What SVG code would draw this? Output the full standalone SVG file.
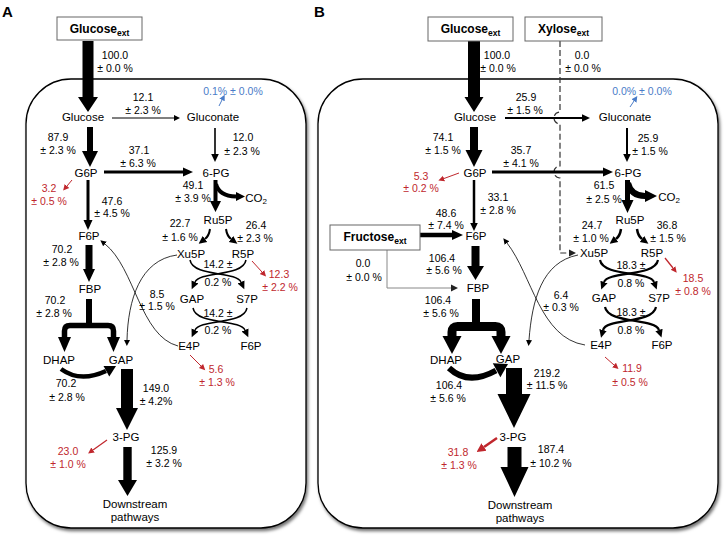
<svg xmlns="http://www.w3.org/2000/svg" width="725" height="541" viewBox="0 0 725 541">
<defs>
<style>
text{font-family:"Liberation Sans",Arial,Helvetica,sans-serif;text-anchor:middle;fill:#000}
.f{font-size:10.5px}
.n{font-size:11.5px}
.r{fill:#c0272d}
.bl{fill:#4a7cc8}
.bx{font-size:12px;font-weight:bold}
.pl{font-size:15px;font-weight:bold;text-anchor:start}
.cell{fill:#fff;stroke:#000;stroke-width:1.3}
.box{fill:#fff;stroke:#666;stroke-width:1}
.ln{fill:none;stroke:#000}
.rl{fill:none;stroke:#c0272d}
.bln{fill:none;stroke:#4a7cc8}
</style>
<filter id="sh" x="-5%" y="-5%" width="112%" height="112%">
<feDropShadow dx="1.5" dy="2.5" stdDeviation="1.5" flood-color="#000" flood-opacity="0.55"/>
</filter>
<marker id="k6" markerUnits="userSpaceOnUse" viewBox="0 -4 8 8" markerWidth="8" markerHeight="8" refX="0" refY="0" orient="auto"><path d="M0,-3L6,0L0,3Z" fill="#000"/></marker>
<marker id="k8" markerUnits="userSpaceOnUse" viewBox="0 -5 10 10" markerWidth="10" markerHeight="10" refX="0" refY="0" orient="auto"><path d="M0,-3.8L8,0L0,3.8Z" fill="#000"/></marker>
<marker id="k10" markerUnits="userSpaceOnUse" viewBox="0 -6 12 12" markerWidth="12" markerHeight="12" refX="0" refY="0" orient="auto"><path d="M0,-4.5L10,0L0,4.5Z" fill="#000"/></marker>
<marker id="r6" markerUnits="userSpaceOnUse" viewBox="0 -4 8 8" markerWidth="8" markerHeight="8" refX="0" refY="0" orient="auto"><path d="M0,-3L6,0L0,3Z" fill="#c0272d"/></marker>
<marker id="r9" markerUnits="userSpaceOnUse" viewBox="0 -6 12 12" markerWidth="12" markerHeight="12" refX="0" refY="0" orient="auto"><path d="M0,-4.5L9,0L0,4.5Z" fill="#c0272d"/></marker>
<marker id="b6" markerUnits="userSpaceOnUse" viewBox="0 -4 8 8" markerWidth="8" markerHeight="8" refX="0" refY="0" orient="auto"><path d="M0,-3L6,0L0,3Z" fill="#4a7cc8"/></marker>
<marker id="d7" markerUnits="userSpaceOnUse" viewBox="0 -5 10 10" markerWidth="10" markerHeight="10" refX="0" refY="0" orient="auto"><path d="M0,-3.5L7,0L0,3.5Z" fill="#222"/></marker>
</defs>
<rect width="725" height="541" fill="#fff"/>

<!-- cells -->
<g id="cell-A"><rect class="cell" x="26" y="79" width="280" height="449" rx="45" filter="url(#sh)"/></g>
<g id="cell-B"><rect class="cell" x="318" y="79" width="400" height="449" rx="45" filter="url(#sh)"/></g>

<text class="pl" x="2" y="17">A</text>
<text class="pl" x="314" y="17">B</text>

<!-- ===== connectors ===== -->
<g id="connectors">
<!-- Panel A thick glycolysis -->
<polygon points="82.5,41 93.5,41 93.5,97 98,97 88,112 78,97 82.5,97"/>
<polygon points="87,127 93,127 93,151 98,151 90,167 82,151 87,151"/>
<path class="ln" d="M88,180 L88,220" stroke-width="3" marker-end="url(#k10)"/>
<polygon points="85.5,245 92.5,245 92.5,269 95,269 89,282 83,269 85.5,269"/>
<rect x="86" y="299" width="6" height="26"/>
<path class="ln" d="M64.5,338 L64.5,331 Q64.5,325.5 70,325.5 L108,325.5 Q113.5,325.5 113.5,331 L113.5,338" stroke-width="5.5"/>
<polygon points="58,337 71,337 64.5,352"/>
<polygon points="107,337 120,337 113.5,352"/>
<path class="ln" d="M61,369 Q80,383 106,371" stroke-width="4.5"/>
<polygon points="109.3,376.6 116,366 103.5,366"/>
<polygon points="121,369 133,369 133,408 138,408 127,430 116,408 121,408"/>
<polygon points="123.3,447 131.7,447 131.7,480 137,480 127.5,496 118,480 123.3,480"/>
<!-- Panel A PPP -->
<path class="ln" d="M112,118 L174,118" stroke-width="1" marker-end="url(#k6)"/>
<path class="ln" d="M215,128 L215,154" stroke-width="1.6" marker-end="url(#k8)"/>
<path class="ln" d="M104,172 L183,172" stroke-width="3" marker-end="url(#k10)"/>
<polygon points="213.5,180 217.5,180 217.5,201 221,201 215.5,212 210,201 213.5,201"/>
<path class="ln" d="M216,184 Q219,196 236,196.5" stroke-width="4"/>
<polygon points="236,192 245,196.5 236,201"/>
<path class="ln" d="M210,229 Q209,236 205,239" stroke-width="2" marker-end="url(#k8)"/>
<path class="ln" d="M226,229 Q227,236 231,239" stroke-width="2" marker-end="url(#k8)"/>
<path class="ln" d="M190,260 C193,277 236,271 241,282" stroke-width="1.5" marker-end="url(#k8)"/>
<path class="ln" d="M246,260 C243,277 200,271 195,282" stroke-width="1.5" marker-end="url(#k8)"/>
<path class="ln" d="M193,308 C196,325 240,319 245,330" stroke-width="1.5" marker-end="url(#k8)"/>
<path class="ln" d="M247,308 C244,325 200,319 195,330" stroke-width="1.5" marker-end="url(#k8)"/>
<path class="ln" d="M177,255 C140,260 128,300 127,340" stroke-width="0.8" marker-end="url(#k6)"/>
<path class="ln" d="M178,346 C140,336 135,268 105,244" stroke-width="0.8" marker-end="url(#k6)"/>
<!-- Panel A effluxes -->
<path class="rl" d="M72,180 L67,186" stroke-width="1" marker-end="url(#r6)"/>
<path class="rl" d="M252,261 L262,272" stroke-width="1" marker-end="url(#r6)"/>
<path class="rl" d="M190,355 L201,366" stroke-width="1" marker-end="url(#r6)"/>
<path class="rl" d="M107,440 L93,450" stroke-width="1.2" marker-end="url(#r6)"/>
<path class="bln" d="M219,106 L222,100" stroke-width="1" marker-end="url(#b6)"/>

<!-- Panel B thick glycolysis -->
<polygon points="468,41 480,41 480,97 483.5,97 474,112 464.5,97 468,97"/>
<polygon points="470,127 478,127 478,150 482.5,150 474,167 465.5,150 470,150"/>
<path class="ln" d="M474,180 L474,223" stroke-width="2.5" marker-end="url(#k8)"/>
<polygon points="420,232.8 452,232.8 452,230 463,235 452,240 452,237.2 420,237.2"/>
<path fill="none" stroke="#888" stroke-width="1" d="M387,250 L387,288 L451,288" marker-end="url(#d7)"/>
<polygon points="471.5,246 479.5,246 479.5,266 484,266 475.5,280 467,266 471.5,266"/>
<rect x="472" y="299" width="8" height="28"/>
<path class="ln" d="M452,338 L452,332 Q452,326.5 457.5,326.5 L495.5,326.5 Q501,326.5 501,332 L501,338" stroke-width="9"/>
<polygon points="442.5,336 461.5,336 452,354"/>
<polygon points="491.5,336 510.5,336 501,354"/>
<path class="ln" d="M449,368 Q468,386 496,370.5" stroke-width="6"/>
<polygon points="500.4,377.2 508,364 492.8,363.2"/>
<polygon points="506,368 522,368 522,394 530.5,394 514,428 497.5,394 506,394"/>
<polygon points="507.5,447 521.5,447 521.5,467 528.5,467 514.5,497 500.5,467 507.5,467"/>
<!-- Panel B PPP -->
<path fill="none" stroke="#333" stroke-width="1.2" stroke-dasharray="6,3" d="M560,41 L560,112 A6,6 0 0 0 560,124 L560,166 A6,6 0 0 0 560,178 L560,253 L569,253" marker-end="url(#d7)"/>
<path class="ln" d="M505,118 L582,118" stroke-width="2" marker-end="url(#k8)"/>
<path class="ln" d="M627,128 L627,154" stroke-width="2" marker-end="url(#k8)"/>
<path class="ln" d="M492,172 L603,172" stroke-width="3" marker-end="url(#k10)"/>
<polygon points="625,180 630,180 630,200 633.5,200 627.5,213 621.5,200 625,200"/>
<path class="ln" d="M628,183 Q631,196 645,196" stroke-width="6"/>
<polygon points="645,190 657,196 645,202"/>
<path class="ln" d="M621,229 Q620,236 616,239" stroke-width="2.5" marker-end="url(#k8)"/>
<path class="ln" d="M637,229 Q638,236 642,239" stroke-width="2.5" marker-end="url(#k8)"/>
<path class="ln" d="M600,260 C603,277 650,271 654,282" stroke-width="2.2" marker-end="url(#k8)"/>
<path class="ln" d="M658,260 C655,277 608,271 604,282" stroke-width="2.2" marker-end="url(#k8)"/>
<path class="ln" d="M605,307 C608,324 655,318 659,330" stroke-width="2.2" marker-end="url(#k8)"/>
<path class="ln" d="M656,307 C653,324 606,318 603,330" stroke-width="2.2" marker-end="url(#k8)"/>
<path class="ln" d="M578,255 C542,262 532,300 529,340" stroke-width="0.8" marker-end="url(#k6)"/>
<path class="ln" d="M585,345 C540,338 532,275 507,243" stroke-width="0.8" marker-end="url(#k6)"/>
<!-- Panel B effluxes -->
<path class="rl" d="M459,173 L444,178.5" stroke-width="1" marker-end="url(#r6)"/>
<path class="rl" d="M665,258 L673,268" stroke-width="1.3" marker-end="url(#r6)"/>
<path class="rl" d="M605,357 L614,365" stroke-width="1" marker-end="url(#r6)"/>
<path class="rl" d="M497,438 L484,447" stroke-width="2.5" marker-end="url(#r9)"/>
<path class="bln" d="M630,107 L634,101" stroke-width="1" marker-end="url(#b6)"/>
</g>

<!-- ===== nodes: panel A ===== -->
<g id="A-glucose-ext"><rect class="box" x="57" y="17" width="85" height="23"/><text class="bx" x="99.5" y="33">Glucose<tspan font-size="8.5" dy="3">ext</tspan></text></g>
<g id="A-glucose"><text class="n" x="83" y="121">Glucose</text></g>
<g id="A-gluconate"><text class="n" x="213" y="121">Gluconate</text></g>
<g id="A-g6p"><text class="n" x="86" y="177">G6P</text></g>
<g id="A-6pg"><text class="n" x="216" y="177">6-PG</text></g>
<g id="A-f6p"><text class="n" x="89" y="240">F6P</text></g>
<g id="A-fbp"><text class="n" x="90" y="293">FBP</text></g>
<g id="A-dhap"><text class="n" x="59" y="364">DHAP</text></g>
<g id="A-gap"><text class="n" x="121" y="364">GAP</text></g>
<g id="A-3pg"><text class="n" x="126" y="441">3-PG</text></g>
<g id="A-downstream"><text class="n" x="135" y="508">Downstream</text><text class="n" x="135" y="521">pathways</text></g>
<g id="A-co2"><text class="n" x="256" y="202">CO<tspan font-size="8" dy="2">2</tspan></text></g>
<g id="A-ru5p"><text class="n" x="218" y="224">Ru5P</text></g>
<g id="A-xu5p"><text class="n" x="191" y="258">Xu5P</text></g>
<g id="A-r5p"><text class="n" x="243" y="258">R5P</text></g>
<g id="A-gap2"><text class="n" x="192" y="303">GAP</text></g>
<g id="A-s7p"><text class="n" x="247" y="303">S7P</text></g>
<g id="A-e4p"><text class="n" x="189" y="350">E4P</text></g>
<g id="A-f6p2"><text class="n" x="251" y="350">F6P</text></g>

<!-- ===== nodes: panel B ===== -->
<g id="B-glucose-ext"><rect class="box" x="428" y="17" width="85" height="24"/><text class="bx" x="470.5" y="33">Glucose<tspan font-size="8.5" dy="3">ext</tspan></text></g>
<g id="B-xylose-ext"><rect class="box" x="525" y="17" width="77" height="24"/><text class="bx" x="563.5" y="33">Xylose<tspan font-size="8.5" dy="3">ext</tspan></text></g>
<g id="B-fructose-ext"><rect class="box" x="330" y="225" width="90" height="25"/><text class="bx" x="375" y="241">Fructose<tspan font-size="8.5" dy="3">ext</tspan></text></g>
<g id="B-glucose"><text class="n" x="475" y="121">Glucose</text></g>
<g id="B-gluconate"><text class="n" x="625" y="121">Gluconate</text></g>
<g id="B-g6p"><text class="n" x="475" y="177">G6P</text></g>
<g id="B-6pg"><text class="n" x="628" y="177">6-PG</text></g>
<g id="B-f6p"><text class="n" x="476" y="240">F6P</text></g>
<g id="B-fbp"><text class="n" x="478" y="292">FBP</text></g>
<g id="B-dhap"><text class="n" x="446" y="364">DHAP</text></g>
<g id="B-gap"><text class="n" x="508" y="363">GAP</text></g>
<g id="B-3pg"><text class="n" x="513" y="441">3-PG</text></g>
<g id="B-downstream"><text class="n" x="520" y="509">Downstream</text><text class="n" x="520" y="522">pathways</text></g>
<g id="B-co2"><text class="n" x="669" y="201">CO<tspan font-size="8" dy="2">2</tspan></text></g>
<g id="B-ru5p"><text class="n" x="630" y="224">Ru5P</text></g>
<g id="B-xu5p"><text class="n" x="594" y="257">Xu5P</text></g>
<g id="B-r5p"><text class="n" x="652" y="257">R5P</text></g>
<g id="B-gap2"><text class="n" x="604" y="302">GAP</text></g>
<g id="B-s7p"><text class="n" x="659" y="302">S7P</text></g>
<g id="B-e4p"><text class="n" x="601" y="349">E4P</text></g>
<g id="B-f6p2"><text class="n" x="662" y="349">F6P</text></g>

<!-- ===== flux labels ===== -->
<g id="flux-labels-A">
<text class="f" x="115" y="59">100.0</text><text class="f" x="115" y="72">± 0.0 %</text>
<text class="f" x="143" y="101">12.1</text><text class="f" x="143" y="114">± 2.3 %</text>
<text class="f bl" x="233" y="95">0.1% ± 0.0%</text>
<text class="f" x="243" y="141">12.0</text><text class="f" x="242" y="155">± 2.3 %</text>
<text class="f" x="58" y="141">87.9</text><text class="f" x="58" y="154">± 2.3 %</text>
<text class="f" x="139" y="154">37.1</text><text class="f" x="138" y="167">± 6.3 %</text>
<text class="f r" x="49" y="192">3.2</text><text class="f r" x="49" y="205">± 0.5 %</text>
<text class="f" x="112" y="205">47.6</text><text class="f" x="112" y="217">± 4.5 %</text>
<text class="f" x="62" y="253">70.2</text><text class="f" x="61" y="266">± 2.8 %</text>
<text class="f" x="55" y="304">70.2</text><text class="f" x="54" y="317">± 2.8 %</text>
<text class="f" x="66" y="387">70.2</text><text class="f" x="67" y="401">± 2.8 %</text>
<text class="f" x="156" y="392">149.0</text><text class="f" x="156" y="405">± 4.2%</text>
<text class="f r" x="68" y="455">23.0</text><text class="f r" x="68" y="468">± 1.0 %</text>
<text class="f" x="164" y="454">125.9</text><text class="f" x="164" y="467">± 3.2 %</text>
<text class="f" x="193" y="189">49.1</text><text class="f" x="193" y="202">± 3.9 %</text>
<text class="f" x="180" y="227">22.7</text><text class="f" x="180" y="241">± 1.6 %</text>
<text class="f" x="256" y="229">26.4</text><text class="f" x="255" y="242">± 2.3 %</text>
<text class="f" x="218" y="268">14.2 ±</text><text class="f" x="218" y="286">0.2 %</text>
<text class="f r" x="279" y="278">12.3</text><text class="f r" x="280" y="291">± 2.2 %</text>
<text class="f" x="218" y="317">14.2 ±</text><text class="f" x="218" y="334">0.2 %</text>
<text class="f" x="157" y="298">8.5</text><text class="f" x="157" y="310">± 1.5 %</text>
<text class="f r" x="216" y="373">5.6</text><text class="f r" x="217" y="386">± 1.3 %</text>
</g>
<g id="flux-labels-B">
<text class="f" x="497" y="59">100.0</text><text class="f" x="498" y="72">± 0.0 %</text>
<text class="f" x="582" y="59">0.0</text><text class="f" x="583" y="72">± 0.0 %</text>
<text class="f" x="526" y="101">25.9</text><text class="f" x="525" y="114">± 1.5 %</text>
<text class="f bl" x="642" y="95">0.0% ± 0.0%</text>
<text class="f" x="648" y="142">25.9</text><text class="f" x="650" y="155">± 1.5 %</text>
<text class="f" x="443" y="141">74.1</text><text class="f" x="443" y="154">± 1.5 %</text>
<text class="f" x="521" y="154">35.7</text><text class="f" x="521" y="167">± 4.1 %</text>
<text class="f r" x="421" y="180">5.3</text><text class="f r" x="421" y="192">± 0.2 %</text>
<text class="f" x="498" y="201">33.1</text><text class="f" x="498" y="214">± 2.8 %</text>
<text class="f" x="446" y="217">48.6</text><text class="f" x="446" y="229">± 7.4 %</text>
<text class="f" x="363" y="267">0.0</text><text class="f" x="364" y="281">± 0.0 %</text>
<text class="f" x="442" y="262">106.4</text><text class="f" x="444" y="274">± 5.6 %</text>
<text class="f" x="438" y="304">106.4</text><text class="f" x="441" y="317">± 5.6 %</text>
<text class="f" x="449" y="389">106.4</text><text class="f" x="448" y="402">± 5.6 %</text>
<text class="f" x="547" y="377">219.2</text><text class="f" x="547" y="389">± 11.5 %</text>
<text class="f r" x="458" y="456">31.8</text><text class="f r" x="459" y="469">± 1.3 %</text>
<text class="f" x="551" y="453">187.4</text><text class="f" x="551" y="467">± 10.2 %</text>
<text class="f" x="604" y="189">61.5</text><text class="f" x="604" y="203">± 2.5 %</text>
<text class="f" x="592" y="229">24.7</text><text class="f" x="591" y="242">± 1.0 %</text>
<text class="f" x="667" y="229">36.8</text><text class="f" x="668" y="242">± 1.5 %</text>
<text class="f" x="631" y="269">18.3 ±</text><text class="f" x="631" y="287">0.8 %</text>
<text class="f r" x="693" y="282">18.5</text><text class="f r" x="693" y="295">± 0.8 %</text>
<text class="f" x="631" y="316">18.3 ±</text><text class="f" x="631" y="334">0.8 %</text>
<text class="f" x="561" y="299">6.4</text><text class="f" x="561" y="311">± 0.3 %</text>
<text class="f r" x="632" y="372">11.9</text><text class="f r" x="630" y="386">± 0.5 %</text>
</g>
</svg>
